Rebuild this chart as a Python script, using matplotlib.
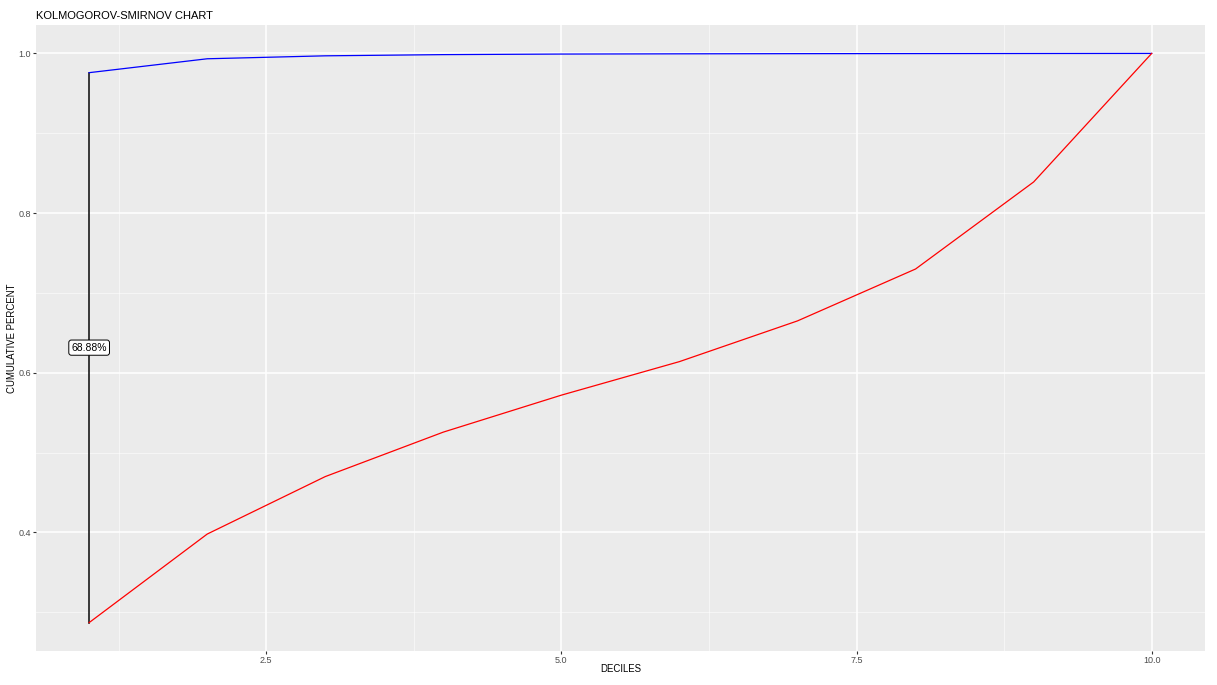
import matplotlib

matplotlib.use("Agg")
import matplotlib.pyplot as plt
from matplotlib.ticker import FixedLocator

# cumulative share by decile
deciles = [1, 2, 3, 4, 5, 6, 7, 8, 9, 10]
cum_good = [0.9759, 0.9933, 0.9970, 0.9985, 0.9992, 0.9995, 0.9997, 0.9998, 0.9999, 1.0]
cum_bad = [0.2871, 0.398, 0.470, 0.5257, 0.572, 0.614, 0.665, 0.730, 0.839, 1.0]
ks_label = "68.88%"

x_ticks = [2.5, 5.0, 7.5, 10.0]
y_ticks = [0.4, 0.6, 0.8, 1.0]
x_minor = [1.25, 3.75, 6.25, 8.75]
y_minor = [0.3, 0.5, 0.7, 0.9]

plt.rcParams["font.family"] = ["Liberation Sans", "DejaVu Sans"]

fig = plt.figure(figsize=(12.17, 6.85), dpi=100)
ax = fig.add_axes([0.0296, 0.0496, 0.9604, 0.9139])
ax.set_facecolor("#EBEBEB")
for s in ax.spines.values():
    s.set_visible(False)

ax.xaxis.set_major_locator(FixedLocator(x_ticks))
ax.yaxis.set_major_locator(FixedLocator(y_ticks))
ax.xaxis.set_minor_locator(FixedLocator(x_minor))
ax.yaxis.set_minor_locator(FixedLocator(y_minor))
ax.grid(True, which="major", color="white", linewidth=1.1)
ax.grid(True, which="minor", color="white", linewidth=0.55, alpha=0.7)
ax.set_axisbelow(True)
ax.tick_params(which="major", length=2.5, width=0.8, color="#333333",
               labelsize=6.5, labelcolor="#4D4D4D", pad=1)
ax.tick_params(which="minor", length=0)

# span between the two curves at the max gap
ks_x = deciles[0]
ax.plot([ks_x, ks_x], [cum_bad[0], cum_good[0]], color="#1A1A1A", linewidth=1.2)
ax.plot(deciles, cum_good, color="blue", linewidth=0.9)
ax.plot(deciles, cum_bad, color="red", linewidth=0.9)
ax.text(ks_x, (cum_bad[0] + cum_good[0]) / 2, ks_label, ha="center", va="center",
        fontsize=7.5, color="black",
        bbox=dict(boxstyle="round,pad=0.25", fc="white", ec="black", lw=0.7))

ax.set_xlim(0.55, 10.45)
ax.set_ylim(0.2515, 1.0356)
ax.set_xlabel("DECILES", fontsize=6.9)
ax.set_ylabel("CUMULATIVE PERCENT", fontsize=6.9)
ax.xaxis.set_label_coords(0.5, -0.021)
ax.yaxis.set_label_coords(-0.0165, 0.5)
fig.text(0.0296, 0.977, "KOLMOGOROV-SMIRNOV CHART", fontsize=8, ha="left", va="center")

fig.savefig("out.png", dpi=100)
plt.close(fig)
